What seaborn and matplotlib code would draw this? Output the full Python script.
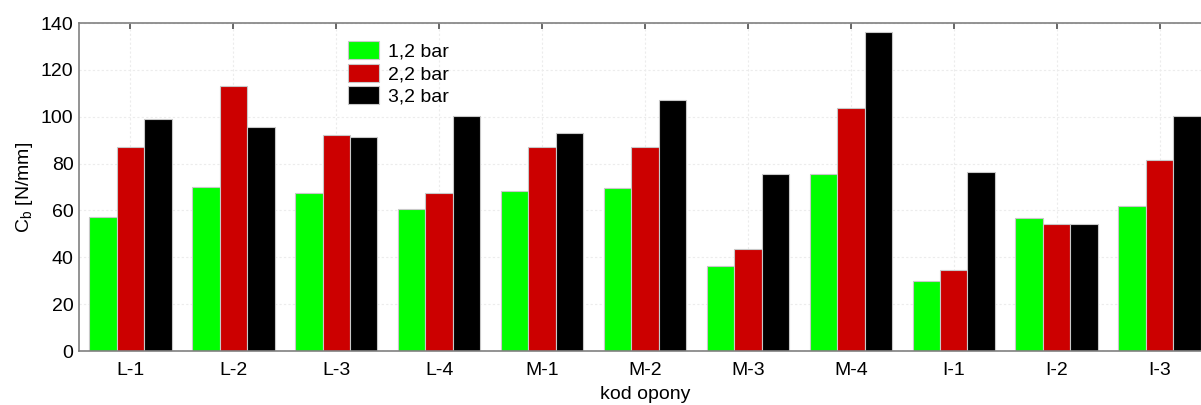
import numpy as np
import pandas as pd
import matplotlib
matplotlib.use("Agg")
import matplotlib.pyplot as plt
import seaborn as sns

categories = ["L-1", "L-2", "L-3", "L-4", "M-1", "M-2", "M-3", "M-4", "I-1", "I-2", "I-3"]
series_names = ["1,2 bar", "2,2 bar", "3,2 bar"]
v_12 = [57.2, 70.1, 67.5, 60.6, 68.4, 69.6, 36.3, 75.4, 29.7, 56.9, 61.8]
v_22 = [86.9, 113.2, 92.3, 67.6, 86.9, 87.0, 43.5, 103.6, 34.6, 54.4, 81.6]
v_32 = [99.2, 95.6, 91.5, 100.1, 93.0, 107.2, 75.6, 136.1, 76.6, 54.3, 100.5]
colors = ["#00ff00", "#cc0000", "#000000"]

df = pd.DataFrame({
    "kod": categories * 3,
    "seria": [s for s in series_names for _ in categories],
    "val": v_12 + v_22 + v_32,
})

sns.set_theme(style="white")
plt.rcParams["font.family"] = ["Liberation Sans", "DejaVu Sans"]
plt.rcParams["mathtext.fontset"] = "custom"
plt.rcParams["mathtext.rm"] = "Liberation Sans"
plt.rcParams["mathtext.it"] = "Liberation Sans"
plt.rcParams["text.color"] = "black"
plt.rcParams["axes.labelcolor"] = "black"

fig = plt.figure(figsize=(12.01, 4.05), dpi=100)
ax = fig.add_axes([79 / 1201, 1 - 351 / 405, 1132 / 1201, 328 / 405])

sns.barplot(data=df, x="kod", y="val", hue="seria", palette=colors,
            width=0.8, edgecolor="#c8c8c8", linewidth=0.8, ax=ax, saturation=1)

ax.set_ylim(0, 140)
ax.set_xlim(-0.5, 10.5)
ax.set_yticks(np.arange(0, 141, 20))
ax.grid(True, color="#ececec", linestyle=(0, (2, 2)), linewidth=0.8)
ax.set_axisbelow(True)
ax.tick_params(axis="both", labelsize=14, labelcolor="black")
ax.tick_params(axis="x", direction="in", length=4, top=True, bottom=True,
               color="#555555", pad=8)
ax.tick_params(axis="y", length=0, pad=4)
ax.set_xlabel("kod opony", fontsize=14, labelpad=5)
ax.set_ylabel("C$_\\mathrm{b}$ [N/mm]", fontsize=14, labelpad=4)
for side in ["left", "bottom", "top"]:
    ax.spines[side].set_color("#808080")
    ax.spines[side].set_linewidth(1.2)
ax.spines["right"].set_visible(False)

leg = ax.legend(loc="upper left", bbox_to_anchor=((348 - 79) / 1132, (351 - 41) / 328),
                frameon=False, fontsize=14, handlelength=1.6, handleheight=1.05,
                labelspacing=0.15, handletextpad=0.45, borderpad=0, borderaxespad=0)

fig.savefig("out.png", dpi=100)
